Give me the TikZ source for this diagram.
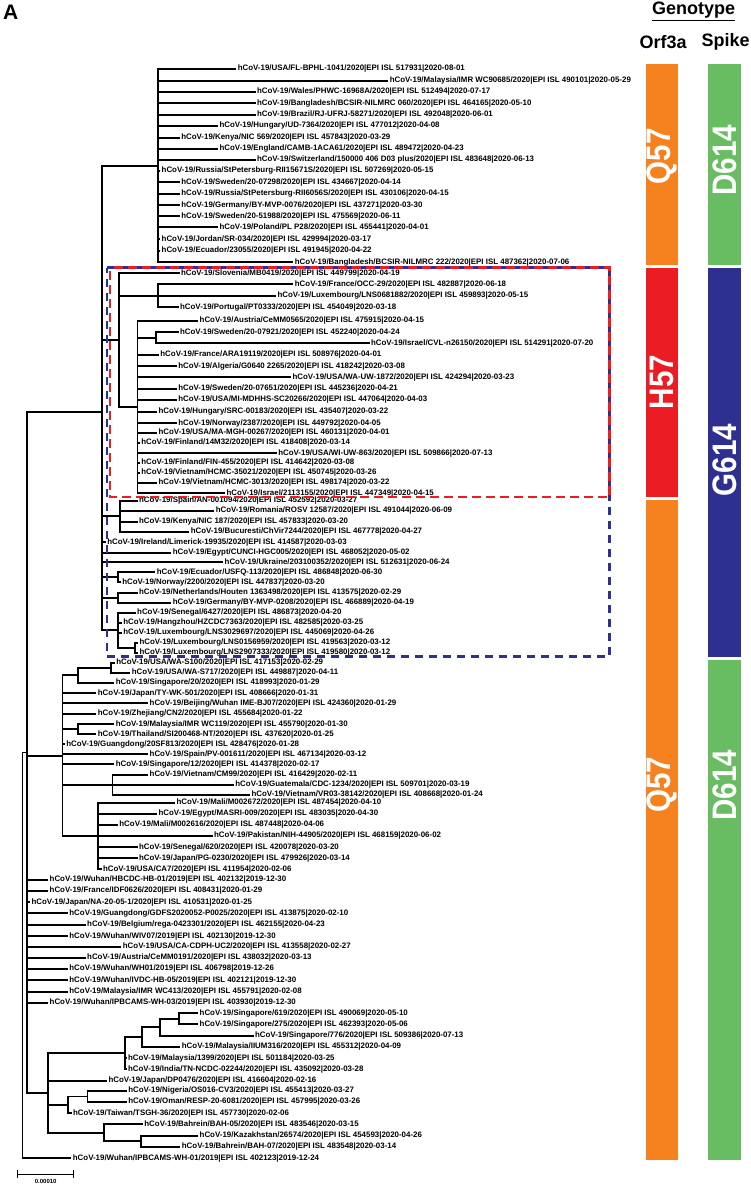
\documentclass[tikz,border=0pt]{standalone}
\usepackage{fontspec}
\setmainfont{Liberation Sans}
\usetikzlibrary{calc}

\definecolor{qorange}{RGB}{245,130,31}
\definecolor{hred}{RGB}{236,28,36}
\definecolor{dgreen}{RGB}{104,189,98}
\definecolor{gblue}{RGB}{45,48,145}

\begin{document}
\begin{tikzpicture}[x=1pt,y=-1pt,
  branch/.style={line width=1.8pt},
  leaf/.style={anchor=west,inner xsep=1.3pt,inner ysep=0pt,font=\fontsize{7.9}{8}\selectfont\bfseries},
  barlabel/.style={rotate=90,text=white,inner sep=0pt,font=\fontsize{34}{34}\selectfont\bfseries},
  head/.style={font=\fontsize{18}{18}\selectfont\bfseries}]
  \useasboundingbox (0,0) rectangle (750,1186);

  % Q57 / D614 clade
  \coordinate (nT) at (158.2,165.7);
  \node[leaf] (l1) at (236.3,69) {hCoV-19/USA/FL-BPHL-1041/2020|EPI ISL 517931|2020-08-01};
  \node[leaf] (l2) at (388.3,80.7) {hCoV-19/Malaysia/IMR WC90685/2020|EPI ISL 490101|2020-05-29};
  \node[leaf] (l3) at (255.5,92) {hCoV-19/Wales/PHWC-16968A/2020|EPI ISL 512494|2020-07-17};
  \node[leaf] (l4) at (255.5,103.3) {hCoV-19/Bangladesh/BCSIR-NILMRC 060/2020|EPI ISL 464165|2020-05-10};
  \node[leaf] (l5) at (255.5,114.7) {hCoV-19/Brazil/RJ-UFRJ-58271/2020|EPI ISL 492048|2020-06-01};
  \node[leaf] (l6) at (218.1,126) {hCoV-19/Hungary/UD-7364/2020|EPI ISL 477012|2020-04-08};
  \node[leaf] (l7) at (179.8,137.7) {hCoV-19/Kenya/NIC 569/2020|EPI ISL 457843|2020-03-29};
  \node[leaf] (l8) at (218.1,149) {hCoV-19/England/CAMB-1ACA61/2020|EPI ISL 489472|2020-04-23};
  \node[leaf] (l9) at (255.5,159.7) {hCoV-19/Switzerland/150000 406 D03 plus/2020|EPI ISL 483648|2020-06-13};
  \node[leaf] (l10) at (160.2,171) {hCoV-19/Russia/StPetersburg-RII15671S/2020|EPI ISL 507269|2020-05-15};
  \node[leaf] (l11) at (179.8,182.3) {hCoV-19/Sweden/20-07298/2020|EPI ISL 434667|2020-04-14};
  \node[leaf] (l12) at (179.8,194) {hCoV-19/Russia/StPetersburg-RII6056S/2020|EPI ISL 430106|2020-04-15};
  \node[leaf] (l13) at (179.8,205.3) {hCoV-19/Germany/BY-MVP-0076/2020|EPI ISL 437271|2020-03-30};
  \node[leaf] (l14) at (179.8,216.3) {hCoV-19/Sweden/20-51988/2020|EPI ISL 475569|2020-06-11};
  \node[leaf] (l15) at (218.1,227.3) {hCoV-19/Poland/PL P28/2020|EPI ISL 455441|2020-04-01};
  \node[leaf] (l16) at (160.2,239.3) {hCoV-19/Jordan/SR-034/2020|EPI ISL 429994|2020-03-17};
  \node[leaf] (l17) at (160.2,251) {hCoV-19/Ecuador/23055/2020|EPI ISL 491945|2020-04-22};
  \node[leaf] (l18) at (293.4,262.3) {hCoV-19/Bangladesh/BCSIR-NILMRC 222/2020|EPI ISL 487362|2020-07-06};
  \foreach \i in {1,...,18} { \draw[branch] (nT) |- (l\i.west); }

  % H57 / G614 clade
  \coordinate (nH1) at (119.3,340.2);
  \coordinate (nFL) at (158.2,295.8);
  \coordinate (nH2) at (137.5,407.2);
  \coordinate (nSI) at (156.1,337.8);
  \node[leaf] (l19) at (179.5,273.3) {hCoV-19/Slovenia/MB0419/2020|EPI ISL 449799|2020-04-19};
  \node[leaf] (l20) at (293.4,284.3) {hCoV-19/France/OCC-29/2020|EPI ISL 482887|2020-06-18};
  \node[leaf] (l21) at (276,296) {hCoV-19/Luxembourg/LNS0681882/2020|EPI ISL 459893|2020-05-15};
  \node[leaf] (l22) at (178.6,307.3) {hCoV-19/Portugal/PT0333/2020|EPI ISL 454049|2020-03-18};
  \node[leaf] (l23) at (198.2,321) {hCoV-19/Austria/CeMM0565/2020|EPI ISL 475915|2020-04-15};
  \node[leaf] (l24) at (178.6,332.3) {hCoV-19/Sweden/20-07921/2020|EPI ISL 452240|2020-04-24};
  \node[leaf] (l25) at (369.6,343.3) {hCoV-19/Israel/CVL-n26150/2020|EPI ISL 514291|2020-07-20};
  \node[leaf] (l26) at (158.9,355) {hCoV-19/France/ARA19119/2020|EPI ISL 508976|2020-04-01};
  \node[leaf] (l27) at (176.8,366.3) {hCoV-19/Algeria/G0640 2265/2020|EPI ISL 418242|2020-03-08};
  \node[leaf] (l28) at (291.1,377.3) {hCoV-19/USA/WA-UW-1872/2020|EPI ISL 424294|2020-03-23};
  \node[leaf] (l29) at (176.8,388.7) {hCoV-19/Sweden/20-07651/2020|EPI ISL 445236|2020-04-21};
  \node[leaf] (l30) at (176.8,400) {hCoV-19/USA/MI-MDHHS-SC20266/2020|EPI ISL 447064|2020-04-03};
  \node[leaf] (l31) at (157.1,411.7) {hCoV-19/Hungary/SRC-00183/2020|EPI ISL 435407|2020-03-22};
  \node[leaf] (l32) at (176.8,423.3) {hCoV-19/Norway/2387/2020|EPI ISL 449792|2020-04-05};
  \node[leaf] (l33) at (157.1,432.7) {hCoV-19/USA/MA-MGH-00267/2020|EPI ISL 460131|2020-04-01};
  \node[leaf] (l34) at (139.8,442.7) {hCoV-19/Finland/14M32/2020|EPI ISL 418408|2020-03-14};
  \node[leaf] (l35) at (276.8,453.3) {hCoV-19/USA/WI-UW-863/2020|EPI ISL 509866|2020-07-13};
  \node[leaf] (l36) at (139.8,462.7) {hCoV-19/Finland/FIN-455/2020|EPI ISL 414642|2020-03-08};
  \node[leaf] (l37) at (139.8,472.7) {hCoV-19/Vietnam/HCMC-35021/2020|EPI ISL 450745|2020-03-26};
  \node[leaf] (l38) at (157.1,482.7) {hCoV-19/Vietnam/HCMC-3013/2020|EPI ISL 498174|2020-03-22};
  \node[leaf] (l39) at (225,493.3) {hCoV-19/Israel/2113155/2020|EPI ISL 447349|2020-04-15};
  \draw[branch] (nH1) |- (l19.west);
  \draw[branch] (nH1) |- (nFL);
  \draw[branch] (nH1) |- (nH2);
  \foreach \i in {20,21,22} { \draw[branch] (nFL) |- (l\i.west); }
  \draw[branch] (nH2) |- (nSI);
  \foreach \i in {24,25} { \draw[branch] (nSI) |- (l\i.west); }
  \foreach \i in {23,26,27,...,39} { \draw[branch] (nH2) |- (l\i.west); }

  % Q57 / G614 clade
  \coordinate (nA) at (102,411.7);
  \coordinate (nS) at (119.6,516.2);
  \coordinate (nEN) at (117.9,577.3);
  \coordinate (nNG) at (117.9,597.7);
  \coordinate (nL2) at (117.9,630.2);
  \coordinate (nL1) at (135,647.7);
  \node[leaf] (l40) at (137.5,500.7) {hCoV-19/Spain/AN-001094/2020|EPI ISL 452592|2020-03-27};
  \node[leaf] (l41) at (214.3,511) {hCoV-19/Romania/ROSV 12587/2020|EPI ISL 491044|2020-06-09};
  \node[leaf] (l42) at (137.5,521.7) {hCoV-19/Kenya/NIC 187/2020|EPI ISL 457833|2020-03-20};
  \node[leaf] (l43) at (189.3,531.7) {hCoV-19/Bucuresti/ChVir7244/2020|EPI ISL 467778|2020-04-27};
  \node[leaf] (l44) at (105.8,542.3) {hCoV-19/Ireland/Limerick-19935/2020|EPI ISL 414587|2020-03-03};
  \node[leaf] (l45) at (171.4,552.7) {hCoV-19/Egypt/CUNCI-HGC005/2020|EPI ISL 468052|2020-05-02};
  \node[leaf] (l46) at (223.2,562.3) {hCoV-19/Ukraine/203100352/2020|EPI ISL 512631|2020-06-24};
  \node[leaf] (l47) at (155.4,572.3) {hCoV-19/Ecuador/USFQ-113/2020|EPI ISL 486848|2020-06-30};
  \node[leaf] (l48) at (120.8,582.3) {hCoV-19/Norway/2200/2020|EPI ISL 447837|2020-03-20};
  \node[leaf] (l49) at (137.5,592.7) {hCoV-19/Netherlands/Houten 1363498/2020|EPI ISL 413575|2020-02-29};
  \node[leaf] (l50) at (171.4,602.7) {hCoV-19/Germany/BY-MVP-0208/2020|EPI ISL 466889|2020-04-19};
  \node[leaf] (l51) at (135.7,612.7) {hCoV-19/Senegal/6427/2020|EPI ISL 486873|2020-04-20};
  \node[leaf] (l52) at (121.9,622.7) {hCoV-19/Hangzhou/HZCDC7363/2020|EPI ISL 482585|2020-03-25};
  \node[leaf] (l53) at (121.9,632.7) {hCoV-19/Luxembourg/LNS3029697/2020|EPI ISL 445069|2020-04-26};
  \node[leaf] (l54) at (138,642.7) {hCoV-19/Luxembourg/LNS0156959/2020|EPI ISL 419563|2020-03-12};
  \node[leaf] (l55) at (138,652.7) {hCoV-19/Luxembourg/LNS2907333/2020|EPI ISL 419580|2020-03-12};
  \draw[branch] (nA) |- (nT);
  \draw[branch] (nA) |- (nH1);
  \draw[branch] (nA) |- (nS);
  \foreach \i in {40,...,43} { \draw[branch] (nS) |- (l\i.west); }
  \foreach \i in {44,45,46} { \draw[branch] (nA) |- (l\i.west); }
  \draw[branch] (nA) |- (nEN);
  \draw[branch] (nA) |- (nNG);
  \draw[branch] (nA) |- (nL2);
  \foreach \i in {47,48} { \draw[branch] (nEN) |- (l\i.west); }
  \foreach \i in {49,50} { \draw[branch] (nNG) |- (l\i.west); }
  \foreach \i in {51,52,53} { \draw[branch] (nL2) |- (l\i.west); }
  \draw[branch] (nL2) |- (nL1);
  \foreach \i in {54,55} { \draw[branch] (nL1) |- (l\i.west); }

  % Q57 / D614 lower clades
  \coordinate (nM) at (62.5,755.6);
  \coordinate (nW3) at (77.9,675.2);
  \coordinate (nW2) at (110.7,667.7);
  \coordinate (nMT) at (77.9,729.3);
  \coordinate (nVN) at (112.5,785);
  \coordinate (nML) at (98.2,836);
  \node[leaf] (l56) at (114.8,662.7) {hCoV-19/USA/WA-S100/2020|EPI ISL 417153|2020-02-29};
  \node[leaf] (l57) at (130.4,672.7) {hCoV-19/USA/WA-S717/2020|EPI ISL 449887|2020-04-11};
  \node[leaf] (l58) at (114.3,682.7) {hCoV-19/Singapore/20/2020|EPI ISL 418993|2020-01-29};
  \node[leaf] (l59) at (96.4,693.3) {hCoV-19/Japan/TY-WK-501/2020|EPI ISL 408666|2020-01-31};
  \node[leaf] (l60) at (148.2,703.3) {hCoV-19/Beijing/Wuhan IME-BJ07/2020|EPI ISL 424360|2020-01-29};
  \node[leaf] (l61) at (96.4,714) {hCoV-19/Zhejiang/CN2/2020|EPI ISL 455684|2020-01-22};
  \node[leaf] (l62) at (114.3,724.3) {hCoV-19/Malaysia/IMR WC119/2020|EPI ISL 455790|2020-01-30};
  \node[leaf] (l63) at (96.4,734.3) {hCoV-19/Thailand/SI200468-NT/2020|EPI ISL 437620|2020-01-25};
  \node[leaf] (l64) at (64.8,744.3) {hCoV-19/Guangdong/20SF813/2020|EPI ISL 428476|2020-01-28};
  \node[leaf] (l65) at (148.2,754.3) {hCoV-19/Spain/PV-001611/2020|EPI ISL 467134|2020-03-12};
  \node[leaf] (l66) at (114.3,764.3) {hCoV-19/Singapore/12/2020|EPI ISL 414378|2020-02-17};
  \node[leaf] (l67) at (148.2,775) {hCoV-19/Vietnam/CM99/2020|EPI ISL 416429|2020-02-11};
  \node[leaf] (l68) at (233.9,785) {hCoV-19/Guatemala/CDC-1234/2020|EPI ISL 509701|2020-03-19};
  \node[leaf] (l69) at (250,795) {hCoV-19/Vietnam/VR03-38142/2020|EPI ISL 408668|2020-01-24};
  \node[leaf] (l70) at (175,802.7) {hCoV-19/Mali/M002672/2020|EPI ISL 487454|2020-04-10};
  \node[leaf] (l71) at (157.1,814) {hCoV-19/Egypt/MASRI-009/2020|EPI ISL 483035|2020-04-30};
  \node[leaf] (l72) at (117.9,825) {hCoV-19/Mali/M002616/2020|EPI ISL 487448|2020-04-06};
  \node[leaf] (l73) at (212.5,836) {hCoV-19/Pakistan/NIH-44905/2020|EPI ISL 468159|2020-06-02};
  \node[leaf] (l74) at (137.5,847.3) {hCoV-19/Senegal/620/2020|EPI ISL 420078|2020-03-20};
  \node[leaf] (l75) at (137.5,858.3) {hCoV-19/Japan/PG-0230/2020|EPI ISL 479926|2020-03-14};
  \node[leaf] (l76) at (101.6,869.3) {hCoV-19/USA/CA7/2020|EPI ISL 411954|2020-02-06};
  \draw[branch] (nM) |- (nW3);
  \draw[branch] (nW3) |- (nW2);
  \foreach \i in {56,57} { \draw[branch] (nW2) |- (l\i.west); }
  \draw[branch] (nW3) |- (l58.west);
  \foreach \i in {59,60,61,64,65,66} { \draw[branch] (nM) |- (l\i.west); }
  \draw[branch] (nM) |- (nMT);
  \foreach \i in {62,63} { \draw[branch] (nMT) |- (l\i.west); }
  \draw[branch] (nM) |- (nVN);
  \foreach \i in {67,68,69} { \draw[branch] (nVN) |- (l\i.west); }
  \draw[branch] (nM) |- (nML);
  \foreach \i in {70,...,76} { \draw[branch] (nML) |- (l\i.west); }

  % basal polytomy and root
  \coordinate (nP) at (26.8,752.4);
  \coordinate (nR) at (22.5,955.4);
  \node[leaf] (l77) at (48.2,880) {hCoV-19/Wuhan/HBCDC-HB-01/2019|EPI ISL 402132|2019-12-30};
  \node[leaf] (l78) at (48.2,891) {hCoV-19/France/IDF0626/2020|EPI ISL 408431|2020-01-29};
  \node[leaf] (l79) at (30.1,902.3) {hCoV-19/Japan/NA-20-05-1/2020|EPI ISL 410531|2020-01-25};
  \node[leaf] (l80) at (67.9,913.3) {hCoV-19/Guangdong/GDFS2020052-P0025/2020|EPI ISL 413875|2020-02-10};
  \node[leaf] (l81) at (85.7,925) {hCoV-19/Belgium/rega-0423301/2020|EPI ISL 462155|2020-04-23};
  \node[leaf] (l82) at (67.9,936.3) {hCoV-19/Wuhan/WIV07/2019|EPI ISL 402130|2019-12-30};
  \node[leaf] (l83) at (121.4,947) {hCoV-19/USA/CA-CDPH-UC2/2020|EPI ISL 413558|2020-02-27};
  \node[leaf] (l84) at (85.7,957.7) {hCoV-19/Austria/CeMM0191/2020|EPI ISL 438032|2020-03-13};
  \node[leaf] (l85) at (67.9,969) {hCoV-19/Wuhan/WH01/2019|EPI ISL 406798|2019-12-26};
  \node[leaf] (l86) at (67.9,980.3) {hCoV-19/Wuhan/IVDC-HB-05/2019|EPI ISL 402121|2019-12-30};
  \node[leaf] (l87) at (67.9,991.7) {hCoV-19/Malaysia/IMR WC413/2020|EPI ISL 455791|2020-02-08};
  \node[leaf] (l88) at (48.2,1002.7) {hCoV-19/Wuhan/IPBCAMS-WH-03/2019|EPI ISL 403930|2019-12-30};
  \draw[branch] (nP) |- (nA);
  \draw[branch] (nP) |- (nM);
  \foreach \i in {77,...,88} { \draw[branch] (nP) |- (l\i.west); }

  % Singapore / Nigeria / Bahrein clade
  \coordinate (nN) at (48.2,1092.9);
  \coordinate (nSG4) at (125,1053.1);
  \coordinate (nSG3) at (142.1,1037);
  \coordinate (nSG2) at (160,1027.3);
  \coordinate (nSG1) at (178.6,1018.8);
  \coordinate (nNT) at (67.9,1104.8);
  \coordinate (nNO) at (87.5,1096.4);
  \coordinate (nBB) at (103.6,1132.8);
  \coordinate (nBK) at (141.1,1141.2);
  \node[leaf] (l89) at (198.2,1013.3) {hCoV-19/Singapore/619/2020|EPI ISL 490069|2020-05-10};
  \node[leaf] (l90) at (198.2,1024.3) {hCoV-19/Singapore/275/2020|EPI ISL 462393|2020-05-06};
  \node[leaf] (l91) at (253.6,1035.7) {hCoV-19/Singapore/776/2020|EPI ISL 509386|2020-07-13};
  \node[leaf] (l92) at (180.4,1046.7) {hCoV-19/Malaysia/IIUM316/2020|EPI ISL 455312|2020-04-09};
  \node[leaf] (l93) at (126.6,1058.3) {hCoV-19/Malaysia/1399/2020|EPI ISL 501184|2020-03-25};
  \node[leaf] (l94) at (126.6,1069.3) {hCoV-19/India/TN-NCDC-02244/2020|EPI ISL 435092|2020-03-28};
  \node[leaf] (l95) at (107.1,1080.7) {hCoV-19/Japan/DP0476/2020|EPI ISL 416604|2020-02-16};
  \node[leaf] (l96) at (126.8,1091) {hCoV-19/Nigeria/OS016-CV3/2020|EPI ISL 455413|2020-03-27};
  \node[leaf] (l97) at (126.8,1101.7) {hCoV-19/Oman/RESP-20-6081/2020|EPI ISL 457995|2020-03-26};
  \node[leaf] (l98) at (71.5,1113.3) {hCoV-19/Taiwan/TSGH-36/2020|EPI ISL 457730|2020-02-06};
  \node[leaf] (l99) at (142.9,1124.3) {hCoV-19/Bahrein/BAH-05/2020|EPI ISL 483546|2020-03-15};
  \node[leaf] (l100) at (198.2,1135.7) {hCoV-19/Kazakhstan/26574/2020|EPI ISL 454593|2020-04-26};
  \node[leaf] (l101) at (180.4,1146.7) {hCoV-19/Bahrein/BAH-07/2020|EPI ISL 483548|2020-03-14};
  \node[leaf] (l102) at (71.4,1158.3) {hCoV-19/Wuhan/IPBCAMS-WH-01/2019|EPI ISL 402123|2019-12-24};
  \draw[branch] (nP) |- (nN);
  \draw[branch] (nN) |- (nSG4);
  \draw[branch] (nSG4) |- (nSG3);
  \draw[branch] (nSG3) |- (nSG2);
  \draw[branch] (nSG2) |- (nSG1);
  \foreach \i in {89,90} { \draw[branch] (nSG1) |- (l\i.west); }
  \draw[branch] (nSG2) |- (l91.west);
  \draw[branch] (nSG3) |- (l92.west);
  \foreach \i in {93,94} { \draw[branch] (nSG4) |- (l\i.west); }
  \draw[branch] (nN) |- (l95.west);
  \draw[branch] (nN) |- (nNT);
  \draw[branch] (nNT) |- (nNO);
  \foreach \i in {96,97} { \draw[branch] (nNO) |- (l\i.west); }
  \draw[branch] (nNT) |- (l98.west);
  \draw[branch] (nN) |- (nBB);
  \draw[branch] (nBB) |- (l99.west);
  \draw[branch] (nBB) |- (nBK);
  \foreach \i in {100,101} { \draw[branch] (nBK) |- (l\i.west); }
  \draw[branch] (nR) |- (nP);
  \draw[branch] (nR) |- (l102.west);

  % scale bar
  \coordinate (sb1) at (17.1,1174.3);
  \coordinate (sb2) at (74.3,1174.3);
  \draw[line width=1pt,|-|] (sb1) -- (sb2);
  \node[font=\fontsize{6}{6}\selectfont\bfseries] (sblab) at ($(sb1)!0.5!(sb2)+(0,7.5)$) {0.00010};

  % dashed boxes: G614 (blue) and H57 (red)
  \draw[gblue,line width=2.6pt,dash pattern=on 8pt off 6pt]
    (107,267.7) -- (609.5,267.7) -- (609.5,656.7) -- (107,656.7) -- cycle;
  \draw[hred,line width=2.6pt,dash pattern=on 9pt off 5pt,dash phase=10.5pt]
    (110,267.7) -- (609.5,267.7) -- (609.5,497) -- (110,497) -- cycle;

  % genotype bars
  \node[head,font=\fontsize{21}{21}\selectfont\bfseries] (panel) at (10.8,12.5) {A};
  \node[head] (geno) at (693.7,11.5) {\underline{Genotype}};
  \node[head] (orf) at (663.2,41.7) {Orf3a};
  \node[head] (spike) at (725.7,41.7) {Spike};
  \fill[qorange] (645.7,64.3) rectangle (678.3,265);
  \fill[hred] (645.7,267.7) rectangle (678.3,497);
  \fill[qorange] (645.7,499.7) rectangle (678.3,1160);
  \fill[dgreen] (708,64.3) rectangle (740.7,265);
  \fill[gblue] (708,267.7) rectangle (740.7,657);
  \fill[dgreen] (708,659.7) rectangle (740.7,1160);
  \node[barlabel] (q1) at (662,156.3) {\scalebox{0.87}[1]{Q57}};
  \node[barlabel] (h1) at (662,382) {\scalebox{0.87}[1]{H57}};
  \node[barlabel] (q2) at (662,785) {\scalebox{0.87}[1]{Q57}};
  \node[barlabel] (d1) at (724.3,160.3) {\scalebox{0.87}[1]{D614}};
  \node[barlabel] (g1) at (724.3,460) {\scalebox{0.87}[1]{G614}};
  \node[barlabel] (d2) at (724.3,785) {\scalebox{0.87}[1]{D614}};
\end{tikzpicture}
\end{document}
